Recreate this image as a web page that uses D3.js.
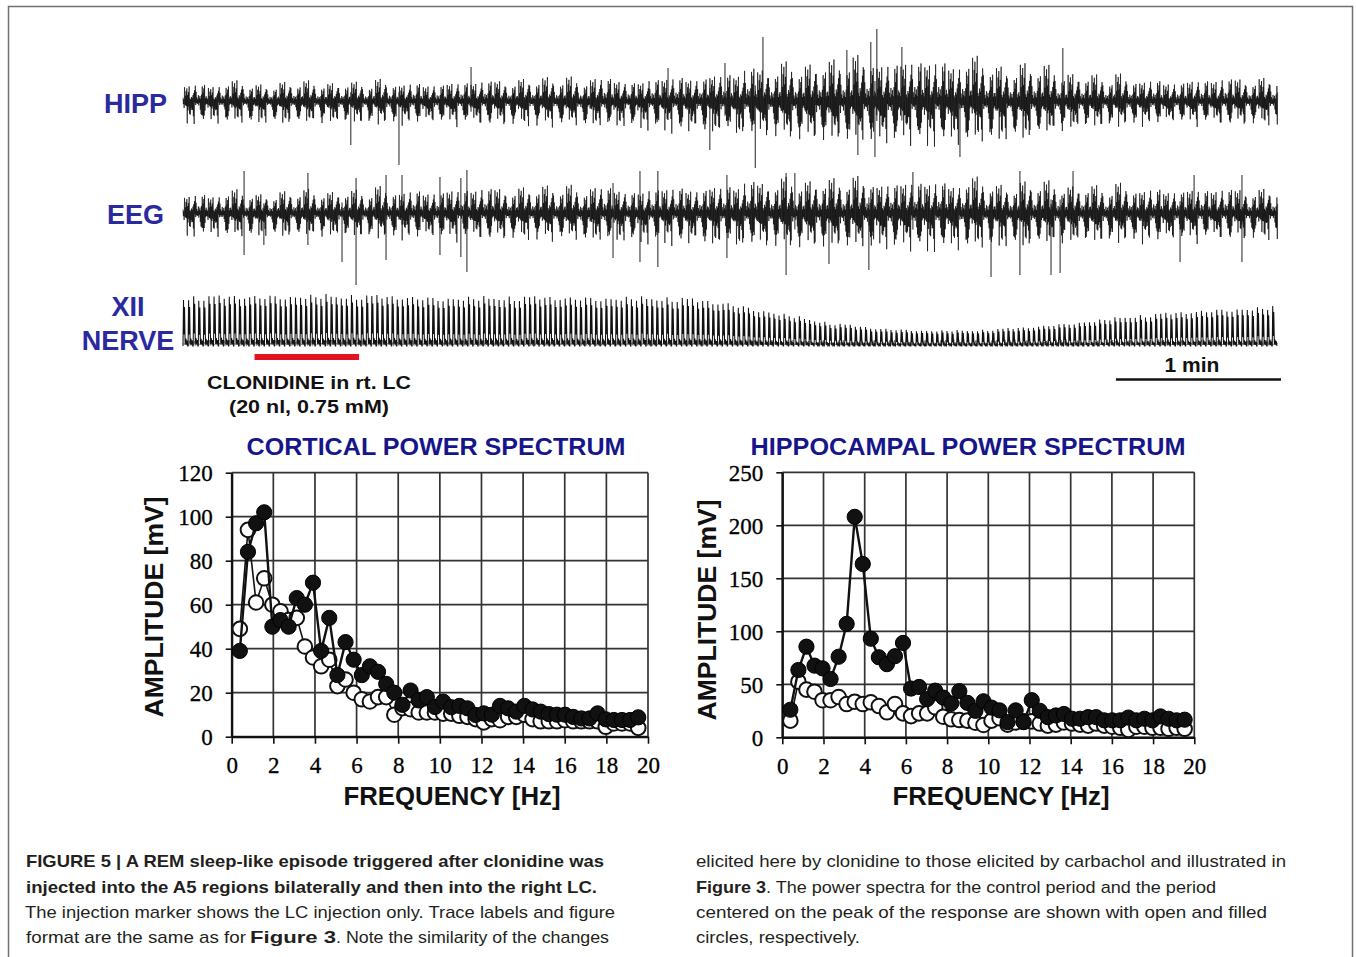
<!DOCTYPE html>
<html><head><meta charset="utf-8">
<script src="https://cdn.jsdelivr.net/npm/d3@7"></script>
<style>body{margin:0;background:#fff}svg{display:block}</style>
</head><body>
<svg id="fig" width="1356" height="957"></svg>
<script>
// ---------------- DATA ----------------
const freqStep = 0.390625;           // Hz per spectral bin
const freqTicks = [0,2,4,6,8,10,12,14,16,18,20];
const corticalTicks = [0,20,40,60,80,100,120];
const hippTicks = [0,50,100,150,200,250];

// cortical power spectrum (open = control, filled = peak of response)
const corticalOpen = [49,94,61,72,60,57,53,54,41,36,32,35,23,26,20,17,16,18,18,10,13,12.5,11,11,11,10.5,10.5,9.5,9,8,6.5,8,7.5,9,9,10,8,7,7,7,7.5,7,7,7,7,4.5,6,6,6,4];
const corticalFilled = [39,84,97,102,50,53,50,63,60,70,39,54,28,43,35,28,32,29.5,24,20,14.5,21,16.5,18,13.5,16,13.4,14,12.9,9.9,10.6,10,14,12.9,11.4,14,12.4,11.4,10.3,10,10,9,8.3,8.3,10.6,7.9,7.6,7.6,7.6,8.8];
// hippocampal power spectrum
const hippOpen = [15.7,52.5,45,43,35,35,38,31.4,33.6,31.4,33,29.5,23.6,31.4,22.6,20,22.6,22.6,28.3,19.4,17,16.3,15.7,13.8,11.6,15.7,18,12,14,15,15,13,11,12,14,13,12,11,13,11,10,9,7,10,10,9,9,8,9,8];
const hippFilled = [26,63.5,85.5,67.6,65,55,76,107,208,163.5,93,75.5,69,76.5,89,46,47.5,36,44,37.5,32,43.5,32.5,25,34,28,25.4,14.3,25.4,14.3,35,25,19,20.6,22,17.5,17.5,19,19,16,16,16,18.6,16,17.5,16,19.7,17.5,16,16.6];

// raw traces: record length (s), envelope samples every 18 s (amplitude, arbitrary units)
const recordSeconds = 398;
const injection = [26, 64];           // s, clonidine in rt. LC
const scaleBarSeconds = 60;
const hippEnvUp   = [20,21,21,22,22,22,24,26,26,27,28,35,42,46,50,49,46,42,33,27,25,27,27];
const hippEnvDown = [24,24,25,26,26,26,27,28,30,30,33,37,44,48,50,48,46,42,33,28,26,27,27];
const eegEnvUp    = [22,24,24,26,27,28,30,30,30,30,30,35,39,39,39,38,37,35,33,30,30,29,28];
const eegEnvDown  = [24,26,26,28,28,30,30,30,33,33,33,37,41,41,43,41,39,37,35,33,33,30,30];
const xiiEnv      = [50,51,52,52,51,50,50,50,50,50,49,44,34,24,18,16,16,19,24,30,34,38,40];
// prominent single deflections: [time s, up, down]
const hippSpikes = [[61,0,44],[78.5,0,64],[104.7,34,0],[176.3,33,0],[191.5,0,49],[197,38,0],[208,0,67],[210.8,64,0],[241.3,51,0],[245.3,0,54],[250,59,0],[251.5,0,56],[252.2,72,0],[261.3,54,0],[282.4,0,56],[319.8,53,0]];
const eegSpikes = [[22.2,42,42],[29.4,0,32],[45.4,40,32],[57.8,0,49],[62.9,35,72],[73.8,38,47],[79.6,38,0],[93.4,36,42],[101,35,44],[103.2,43,59],[156.3,30,45],[166.1,42,49],[172.6,42,54],[197.7,38,45],[219.2,40,62],[222.4,40,0],[234.8,0,51],[249.3,0,57],[265.3,41,0],[293.7,0,64],[304.2,42,62],[315.5,0,62],[318.8,0,60],[323.5,42,0],[362.4,0,49],[367.5,38,0],[384.9,38,49]];
// stroke texture used to draw the dense raw signals
const traceTexture = [0.42,0.88,0.3,0.65,0.97,0.38,0.55,0.24,0.8,0.5,0.92,0.33,0.6,0.45,0.75,0.28,1.0,0.52,0.36,0.85,0.27,0.62,0.47,0.78,0.4,0.9,0.58,0.31,0.7,0.44,0.83];
const xiiShape = [[0,0],[0.1,1],[0.2,0.25],[0.3,0.85],[0.42,0.04],[0.55,0.16],[0.68,0.03],[0.82,0.12],[0.92,0.0]];

// ---------------- DRAW ----------------
const svg = d3.select('#fig');
svg.append('rect').attr('width',1356).attr('height',957).attr('fill','#fff');
svg.append('path').attr('d','M8.5,965 V6.5 H1352.5 V965').attr('fill','none').attr('stroke','#6f6f6f').attr('stroke-width',1.5);

const SANS = "'Liberation Sans', Arial, sans-serif";
const SERIF = "'Liberation Serif', 'Times New Roman', serif";
const labelBlue = '#2a2a9e', titleBlue = '#16168a';

const tx = d3.scaleLinear().domain([0, recordSeconds]).range([183, 1278]);
const envTimes = d3.range(0, 397, 18);
const traces = svg.append('g');
const tex = i => Math.pow(traceTexture[i%31] * (0.7 + 0.3*traceTexture[Math.floor(i/31)%31]), 1.7);

function noiseTrace(center, envUp, envDown, spikes){
  const up = d3.scaleLinear().domain(envTimes).range(envUp).clamp(true);
  const dn = d3.scaleLinear().domain(envTimes).range(envDown).clamp(true);
  const y = d3.scaleLinear().domain([-100,100]).range([center+100, center-100]);
  const ts = d3.range(0, recordSeconds, 0.14);
  const pts = ts.map((t,i)=>[tx(t), i%2===0 ? y(up(t)*tex(i)) : y(-dn(t)*tex(i*11+7))]);
  traces.append('path').attr('d', d3.line()(pts)).attr('fill','none')
    .attr('stroke','#000').attr('stroke-width',0.7).attr('stroke-opacity',0.9);
  traces.append('g').selectAll('line').data(spikes).join('line')
    .attr('x1',d=>tx(d[0])).attr('x2',d=>tx(d[0]))
    .attr('y1',d=>y(Math.max(d[1], up(d[0])*0.4))).attr('y2',d=>y(-Math.max(d[2], dn(d[0])*0.4)))
    .attr('stroke','#222').attr('stroke-width',1);
}
noiseTrace(101, hippEnvUp, hippEnvDown, hippSpikes);
noiseTrace(213, eegEnvUp, eegEnvDown, eegSpikes);

// XII nerve: rhythmic bursts
(function(){
  const h = d3.scaleLinear().domain(envTimes).range(xiiEnv).clamp(true);
  const y = d3.scaleLinear().domain([0,100]).range([346, 246]);
  const period = 1.85;
  const cycles = d3.range(0, recordSeconds - period, period);
  const pts = [];
  cycles.forEach((t0,k)=>{
    const amp = h(t0)*(0.86 + 0.14*traceTexture[(k*5)%31]);
    xiiShape.forEach(s=>pts.push([tx(t0 + s[0]*period), y(amp*s[1])]));
  });
  traces.append('path').attr('d', d3.line()(pts)).attr('fill','none')
    .attr('stroke','#111').attr('stroke-width',1.05);
  // baseline noise band
  const base = d3.range(0, recordSeconds, 0.3).map((t,i)=>[tx(t), y((i%2? 1.5 : 6.5)*traceTexture[i%31])]);
  traces.append('path').attr('d', d3.line()(base)).attr('fill','none')
    .attr('stroke','#222').attr('stroke-width',0.6).attr('stroke-opacity',0.8);
})();

// trace labels
const lab = svg.append('g').attr('font-family',SANS).attr('font-weight','bold').attr('fill',labelBlue).attr('font-size',27);
lab.append('text').attr('x',167).attr('y',113).attr('text-anchor','end').text('HIPP');
lab.append('text').attr('x',164).attr('y',224).attr('text-anchor','end').text('EEG');
lab.append('text').attr('x',128).attr('y',316).attr('text-anchor','middle').text('XII');
lab.append('text').attr('x',128).attr('y',350).attr('text-anchor','middle').text('NERVE');

// injection marker
svg.append('rect').attr('x',tx(injection[0])).attr('width',tx(injection[1])-tx(injection[0]))
  .attr('y',354).attr('height',6).attr('fill','#e3131f');
const inj = svg.append('g').attr('font-family',SANS).attr('font-weight','bold').attr('fill','#111').attr('font-size',19).attr('text-anchor','middle');
inj.append('text').attr('x',309).attr('y',389).attr('textLength',204).attr('lengthAdjust','spacingAndGlyphs').text('CLONIDINE in rt. LC');
inj.append('text').attr('x',309).attr('y',413).attr('textLength',160).attr('lengthAdjust','spacingAndGlyphs').text('(20 nl, 0.75 mM)');

// 1 min scale bar
const sbx1 = 1281, sbx0 = sbx1 - (tx(scaleBarSeconds) - tx(0));
svg.append('line').attr('x1',sbx0).attr('x2',sbx1).attr('y1',379.5).attr('y2',379.5).attr('stroke','#111').attr('stroke-width',2.5);
svg.append('text').attr('x',1192).attr('y',372).attr('text-anchor','middle').attr('font-family',SANS).attr('font-weight','bold').attr('font-size',21).attr('fill','#111').text('1 min');

// ---------------- SPECTRA ----------------
function spectrum(cfg){
  const x = d3.scaleLinear().domain([0,20]).range([cfg.left, cfg.right]);
  const y = d3.scaleLinear().domain([0,cfg.max]).range([cfg.bottom, cfg.top]);
  const g = svg.append('g');
  g.append('g').selectAll('line').data(freqTicks).join('line')
    .attr('x1',d=>x(d)).attr('x2',d=>x(d)).attr('y1',y(0)).attr('y2',y(cfg.max))
    .attr('stroke','#333').attr('stroke-width',1.7);
  g.append('g').selectAll('line').data(cfg.ticks).join('line')
    .attr('x1',x(0)).attr('x2',x(20)).attr('y1',d=>y(d)).attr('y2',d=>y(d))
    .attr('stroke','#333').attr('stroke-width',1.7);
  const xa = g.append('g').attr('transform',`translate(0,${y(0)})`)
    .call(d3.axisBottom(x).tickValues(freqTicks).tickSize(7).tickSizeOuter(0).tickPadding(13).tickFormat(d3.format('d')));
  const ya = g.append('g').attr('transform',`translate(${x(0)},0)`)
    .call(d3.axisLeft(y).tickValues(cfg.ticks).tickSize(6).tickSizeOuter(0).tickPadding(13).tickFormat(d3.format('d')));
  [xa,ya].forEach(a=>{
    a.attr('font-family',SERIF).attr('font-size',23);
    a.select('.domain').attr('stroke','#111').attr('stroke-width',2.2);
    a.selectAll('.tick line').attr('stroke','#111').attr('stroke-width',1.6);
    a.selectAll('.tick text').style('font-family',SERIF).style('font-size','23px').attr('fill','#000')
      .attr('stroke','#000').attr('stroke-width',0.3);
  });
  ya.selectAll('.tick text').attr('dy','0.36em');
  const fx = (d,i)=>x((i+1)*freqStep);
  const line = d3.line().x(fx).y(d=>y(d));
  g.append('path').attr('d',line(cfg.open)).attr('fill','none').attr('stroke','#111').attr('stroke-width',1.6);
  g.append('g').selectAll('circle').data(cfg.open).join('circle')
    .attr('cx',fx).attr('cy',d=>y(d)).attr('r',7.3).attr('fill','#fff').attr('stroke','#111').attr('stroke-width',2);
  g.append('path').attr('d',line(cfg.filled)).attr('fill','none').attr('stroke','#111').attr('stroke-width',2.4);
  g.append('g').selectAll('circle').data(cfg.filled).join('circle')
    .attr('cx',fx).attr('cy',d=>y(d)).attr('r',7.6).attr('fill','#111').attr('stroke','#000').attr('stroke-width',1);
  // titles
  g.append('text').attr('x',cfg.titleX).attr('y',455).attr('text-anchor','middle')
    .attr('font-family',SANS).attr('font-weight','bold').attr('font-size',24).attr('fill',titleBlue)
    .attr('textLength',cfg.titleLen).attr('lengthAdjust','spacingAndGlyphs').text(cfg.title);
  g.append('text').attr('transform',`translate(${cfg.yTitleX},${cfg.yTitleY}) rotate(-90)`).attr('text-anchor','middle')
    .attr('font-family',SANS).attr('font-weight','bold').attr('font-size',25).attr('fill','#111')
    .attr('textLength',221).attr('lengthAdjust','spacingAndGlyphs').text('AMPLITUDE [mV]');
  g.append('text').attr('x',cfg.xTitleX).attr('y',805).attr('text-anchor','middle')
    .attr('font-family',SANS).attr('font-weight','bold').attr('font-size',25).attr('fill','#111')
    .attr('textLength',217).attr('lengthAdjust','spacingAndGlyphs').text('FREQUENCY [Hz]');
}
spectrum({left:231.7,right:648,bottom:736.7,top:472.7,max:120,ticks:corticalTicks,open:corticalOpen,filled:corticalFilled,
  title:'CORTICAL POWER SPECTRUM',titleX:436,titleLen:379,yTitleX:163,yTitleY:607,xTitleX:452});
spectrum({left:782.3,right:1194.3,bottom:737.3,top:472.3,max:250,ticks:hippTicks,open:hippOpen,filled:hippFilled,
  title:'HIPPOCAMPAL POWER SPECTRUM',titleX:968,titleLen:435,yTitleX:716,yTitleY:610,xTitleX:1001});

// ---------------- CAPTION ----------------
const cap = svg.append('g').attr('font-family',SANS).attr('font-size',17).attr('fill','#231f20');
function capText(x,y,w,txt,bold){
  cap.append('text').attr('x',x).attr('y',y).attr('textLength',w).attr('lengthAdjust','spacingAndGlyphs')
    .attr('font-weight',bold?'bold':'normal').text(txt);
}
capText(26,867,578,'FIGURE 5 | A REM sleep-like episode triggered after clonidine was',true);
capText(26,893,571,'injected into the A5 regions bilaterally and then into the right LC.',true);
capText(25,918,590,'The injection marker shows the LC injection only. Trace labels and figure',false);
capText(26,943,220,'format are the same as for',false);
capText(250,943,86,'Figure 3',true);
capText(336,943,273,'. Note the similarity of the changes',false);
capText(696,867,590,'elicited here by clonidine to those elicited by carbachol and illustrated in',false);
capText(696,893,70,'Figure 3',true);
capText(766,893,450,'. The power spectra for the control period and the period',false);
capText(696,918,571,'centered on the peak of the response are shown with open and filled',false);
capText(696,943,164,'circles, respectively.',false);
</script>
</body></html>
